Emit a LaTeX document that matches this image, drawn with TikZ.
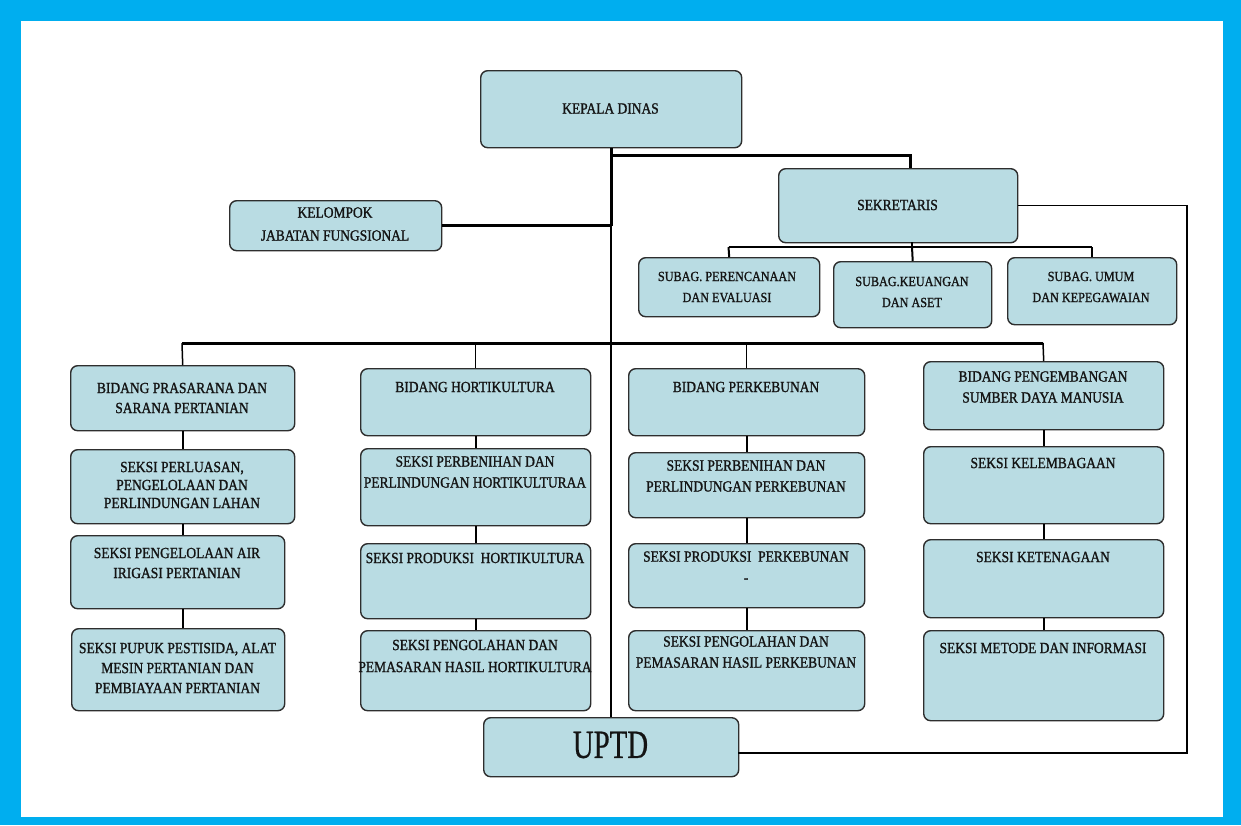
\documentclass[tikz,border=0pt]{standalone}
\usepackage{fontspec}
\setmainfont{Liberation Serif}
\newfontfamily\orgfont[FakeStretch=0.87,FakeBold=1.2]{Liberation Serif}
\newfontfamily\bigfont[FakeStretch=0.72,FakeBold=0.6]{Liberation Serif}
\definecolor{frameblue}{HTML}{00AEEF}
\definecolor{boxfill}{HTML}{B9DCE3}
\definecolor{boxline}{HTML}{2E2E2E}
\definecolor{ink}{HTML}{141414}
\begin{document}
\begin{tikzpicture}[x=1pt,y=-1pt,
  bx/.style={draw=boxline, fill=boxfill, rounded corners=7pt, line width=1.4pt, inner sep=0pt, anchor=north west},
  txt/.style={align=center, inner sep=0pt, text=ink, font=\orgfont\fontsize{15.5}{20}\selectfont},
  stxt/.style={txt, font=\orgfont\fontsize{14}{21}\selectfont},
  utxt/.style={txt, font=\bigfont\fontsize{40}{40}\selectfont},
  heavy/.style={line width=3pt},
  mid/.style={line width=2pt},
  thinl/.style={line width=1.5pt}]
\useasboundingbox (0,0) rectangle (1241,825);
\fill[frameblue] (0,0) rectangle (1241,825);
\fill[white] (21,21) rectangle (1223,817);

% boxes
\node[bx, minimum width=261pt, minimum height=77pt] (kd) at (480,70) {};
\node[bx, minimum width=239pt, minimum height=74pt] (sek) at (778,168) {};
\node[bx, minimum width=212pt, minimum height=50pt] (kel) at (229,200) {};
\node[bx, minimum width=181pt, minimum height=59pt] (sp) at (638,257) {};
\node[bx, minimum width=158pt, minimum height=66pt] (sk) at (833,261) {};
\node[bx, minimum width=169pt, minimum height=67pt] (su) at (1007,257) {};

\node[bx, minimum width=224pt, minimum height=65pt] (b1) at (70,365) {};
\node[bx, minimum width=224pt, minimum height=74pt] (s11) at (70,449) {};
\node[bx, minimum width=214pt, minimum height=73pt] (s12) at (70,535) {};
\node[bx, minimum width=213pt, minimum height=82pt] (s13) at (71,628) {};

\node[bx, minimum width=230pt, minimum height=67pt] (b2) at (360,368) {};
\node[bx, minimum width=230pt, minimum height=77pt] (s21) at (360,448) {};
\node[bx, minimum width=230pt, minimum height=75pt] (s22) at (360,543) {};
\node[bx, minimum width=230pt, minimum height=80pt] (s23) at (360,630) {};

\node[bx, minimum width=236pt, minimum height=67pt] (b3) at (628,368) {};
\node[bx, minimum width=236pt, minimum height=65pt] (s31) at (628,452) {};
\node[bx, minimum width=236pt, minimum height=64pt] (s32) at (628,543) {};
\node[bx, minimum width=236pt, minimum height=80pt] (s33) at (628,630) {};

\node[bx, minimum width=240pt, minimum height=68pt] (b4) at (923,361) {};
\node[bx, minimum width=240pt, minimum height=77pt] (s41) at (923,446) {};
\node[bx, minimum width=240pt, minimum height=78pt] (s42) at (923,539) {};
\node[bx, minimum width=240pt, minimum height=90pt] (s43) at (923,630) {};

\node[bx, minimum width=255pt, minimum height=59pt] (uptd) at (483,717) {};

% texts
\node[txt] (kd-t) at (610.5,108.5) {KEPALA DINAS};
\node[txt] (sek-t) at (897.5,205) {SEKRETARIS};
\node[txt, font=\orgfont\fontsize{15.5}{23}\selectfont] (kel-t) at (335,224) {KELOMPOK\\JABATAN FUNGSIONAL};
\node[stxt] (sp-t) at (727,287) {SUBAG. PERENCANAAN\\DAN EVALUASI};
\node[stxt] (sk-t) at (912,292) {SUBAG.KEUANGAN\\DAN ASET};
\node[stxt] (su-t) at (1091,287) {SUBAG. UMUM\\DAN KEPEGAWAIAN};

\node[txt] (b1-t) at (182,398) {BIDANG PRASARANA DAN\\SARANA PERTANIAN};
\node[txt, font=\orgfont\fontsize{15.5}{18}\selectfont] (s11-t) at (182,485) {SEKSI PERLUASAN,\\PENGELOLAAN DAN\\PERLINDUNGAN LAHAN};
\node[txt] (s12-t) at (177,563) {SEKSI PENGELOLAAN AIR\\IRIGASI PERTANIAN};
\node[txt] (s13-t) at (177.5,668) {SEKSI PUPUK PESTISIDA, ALAT\\MESIN PERTANIAN DAN\\PEMBIAYAAN PERTANIAN};

\node[txt] (b2-t) at (475,387) {BIDANG HORTIKULTURA};
\node[txt, font=\orgfont\fontsize{15.5}{21}\selectfont] (s21-t) at (475,472) {SEKSI PERBENIHAN DAN\\PERLINDUNGAN HORTIKULTURAA};
\node[txt] (s22-t) at (475,558) {SEKSI PRODUKSI\ \ HORTIKULTURA};
\node[txt, font=\orgfont\fontsize{15.5}{22}\selectfont] (s23-t) at (475,656) {SEKSI PENGOLAHAN DAN\\PEMASARAN HASIL HORTIKULTURA};

\node[txt] (b3-t) at (746,387) {BIDANG PERKEBUNAN};
\node[txt, font=\orgfont\fontsize{15.5}{21}\selectfont] (s31-t) at (746,476) {SEKSI PERBENIHAN DAN\\PERLINDUNGAN PERKEBUNAN};
\node[txt, font=\orgfont\fontsize{15.5}{21}\selectfont] (s32-t) at (746,567) {SEKSI PRODUKSI\ \ PERKEBUNAN\\-};
\node[txt, font=\orgfont\fontsize{15.5}{21}\selectfont] (s33-t) at (746,652) {SEKSI PENGOLAHAN DAN\\PEMASARAN HASIL PERKEBUNAN};

\node[txt, font=\orgfont\fontsize{15.5}{21}\selectfont] (b4-t) at (1043,387) {BIDANG PENGEMBANGAN\\SUMBER DAYA MANUSIA};
\node[txt] (s41-t) at (1043,463) {SEKSI KELEMBAGAAN};
\node[txt] (s42-t) at (1043,557) {SEKSI KETENAGAAN};
\node[txt] (s43-t) at (1043,648) {SEKSI METODE DAN INFORMASI};

\node[utxt] (uptd-t) at (610.5,745) {UPTD};

% connector coordinates
\coordinate (kdj) at (610.5,155);
\coordinate (sekin) at (910,168);
\coordinate (sekout) at (912,242);
\coordinate (sbus) at (912,247);
\coordinate (sbL) at (728.5,247);
\coordinate (sbR) at (1092,247);
\coordinate (busL) at (182,343);
\coordinate (busR) at (1043,343);
\coordinate (rc) at (1187,753);
\coordinate (uptdr) at (738,753);

% trunk
\draw[heavy] (kd.south) -- (kd.south |- kel.east);
\draw[heavy] (kel.east) -- (kel.east -| kd.south);
\draw[thinl] (kd.south |- kel.east) -- (uptd.north);
\draw[heavy] (kdj) -| (sekin);

% sekretaris subordinates
\draw[mid] (sekout) -- (sbus);
\draw[mid] (sbL) -- (sbR);
\draw[mid] (sbL) -- (sp.north);
\draw[mid] (sbus) -- (sk.north);
\draw[mid] (sbR) -- (sbR |- su.north);

% loop from sekretaris to uptd
\draw[line width=1.3pt] (sek.east) -| (rc) -- (uptdr);

% main bus
\draw[heavy] (busL) -- (busR);
\draw[thinl] (busL) -- (b1.north);
\draw[thinl] (b2.north |- busL) -- (b2.north);
\draw[thinl] (b3.north |- busL) -- (b3.north);
\draw[thinl] (busR) -- (b4.north);

% columns
\draw[mid] (b1.south) -- (s11.north);
\draw[mid] (s11.south) -- (s11.south |- s12.north);
\draw[mid] (s11.south |- s12.south) -- (s11.south |- s13.north);
\draw[mid] (b2.south) -- (s21.north);
\draw[mid] (s21.south) -- (s22.north);
\draw[mid] (s22.south) -- (s23.north);
\draw[mid] (b3.south) -- (s31.north);
\draw[mid] (s31.south) -- (s32.north);
\draw[mid] (s32.south) -- (s33.north);
\draw[mid] (b4.south) -- (s41.north);
\draw[mid] (s41.south) -- (s42.north);
\draw[mid] (s42.south) -- (s43.north);
\end{tikzpicture}
\end{document}
